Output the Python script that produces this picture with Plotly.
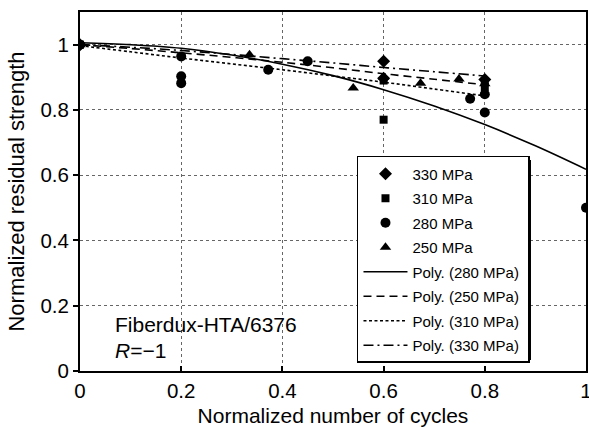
import plotly.graph_objects as go

# ---- data ----
x330 = [0.0, 0.6, 0.6, 0.8]
y330 = [1.0, 0.949, 0.897, 0.893]

x310 = [0.0, 0.6, 0.6, 0.8, 0.8]
y310 = [1.0, 0.89, 0.77, 0.885, 0.87]

x280 = [0.0, 0.2, 0.2, 0.2, 0.372, 0.45, 0.771, 0.8, 0.8, 1.0]
y280 = [1.0, 0.964, 0.903, 0.882, 0.923, 0.949, 0.834, 0.848, 0.792, 0.5]

x250 = [0.0, 0.335, 0.54, 0.6, 0.673, 0.749, 0.8]
y250 = [1.0, 0.969, 0.867, 0.90, 0.882, 0.895, 0.88]

# trendlines
xfit280 = [0.0, 0.1, 0.2, 0.3, 0.4, 0.5, 0.6, 0.7, 0.8, 0.9, 1.0]
yfit280 = [1.006, 1.0, 0.989, 0.968, 0.940, 0.905, 0.862, 0.812, 0.755, 0.690, 0.618]

xfit = [0.0, 0.1, 0.2, 0.3, 0.4, 0.5, 0.6, 0.7, 0.8]
yfit250 = [1.0, 0.988, 0.975, 0.961, 0.946, 0.929, 0.911, 0.894, 0.877]
yfit310 = [0.997, 0.978, 0.959, 0.941, 0.923, 0.904, 0.885, 0.864, 0.843]
yfit330 = [1.0, 0.992, 0.982, 0.970, 0.957, 0.944, 0.930, 0.917, 0.904]

FONT = "Liberation Sans, Arial, sans-serif"

fig = go.Figure()

def mk(x, y, name, symbol, size):
    fig.add_trace(go.Scatter(
        x=x, y=y, mode="markers", name=name + "\u00a0\u00a0", legendgroup=name,
        marker=dict(symbol=symbol, size=size, color="black"),
    ))

mk(x330, y330, "330 MPa", "diamond", 10)
mk(x310, y310, "310 MPa", "square", 8)
mk(x280, y280, "280 MPa", "circle", 10)
mk(x250, y250, "250 MPa", "triangle-up", 10)

def ln(x, y, name, dash):
    fig.add_trace(go.Scatter(
        x=x, y=y, mode="lines", name=name + "\u00a0", legendgroup=name,
        line=dict(color="black", width=1.6, dash=dash, shape="spline"),
    ))

ln(xfit280, yfit280, "Poly. (280 MPa)", "solid")
ln(xfit, yfit250, "Poly. (250 MPa)", "8px,5px")
ln(xfit, yfit310, "Poly. (310 MPa)", "3px,2.5px")
ln(xfit, yfit330, "Poly. (330 MPa)", "10px,4px,2px,4px")

# legend shadow
fig.add_shape(type="rect", xref="paper", yref="paper",
              x0=0.5553, x1=0.8913, y0=0.0306, y1=0.5877,
              fillcolor="black", line=dict(width=0), layer="above")

fig.add_annotation(x=0.065, y=0.141, xref="x", yref="y", text="Fiberdux-HTA/6376",
                   showarrow=False, xanchor="left", yanchor="middle",
                   font=dict(size=21, color="black", family=FONT))
fig.add_annotation(x=0.065, y=0.064, xref="x", yref="y", text="<i>R</i>=\u22121",
                   showarrow=False, xanchor="left", yanchor="middle",
                   font=dict(size=21, color="black", family=FONT))

axis_common = dict(
    showline=True, linecolor="black", linewidth=2, mirror=True,
    showgrid=True, gridcolor="#666666", gridwidth=1, griddash="dot",
    zeroline=False, ticklen=5, tickwidth=1.5, tickcolor="black",
    tickfont=dict(size=20.5, color="black", family=FONT),
    ticklabeloverflow="allow", automargin=False,
)

fig.update_xaxes(range=[0, 1], dtick=0.2, ticks="inside",
                 title=dict(text="Normalized number of cycles", standoff=8,
                            font=dict(size=21, color="black", family=FONT)),
                 **axis_common)
fig.update_yaxes(range=[0, 1.1], tickvals=[0, 0.2, 0.4, 0.6, 0.8, 1.0], ticks="outside",
                 title=dict(text="Normalized residual strength", standoff=10,
                            font=dict(size=22, color="black", family=FONT)),
                 **axis_common)

fig.update_layout(
    width=589, height=428,
    margin=dict(l=80, r=3, t=12, b=57, autoexpand=False),
    plot_bgcolor="white", paper_bgcolor="white",
    font=dict(family=FONT, color="black"),
    legend=dict(x=0.5474, y=0.5989, xanchor="left", yanchor="top",
                bgcolor="white", bordercolor="black", borderwidth=1.5,
                font=dict(size=15, color="black", family=FONT),
                tracegroupgap=2, itemwidth=44),
)

fig.write_html("out.html")
